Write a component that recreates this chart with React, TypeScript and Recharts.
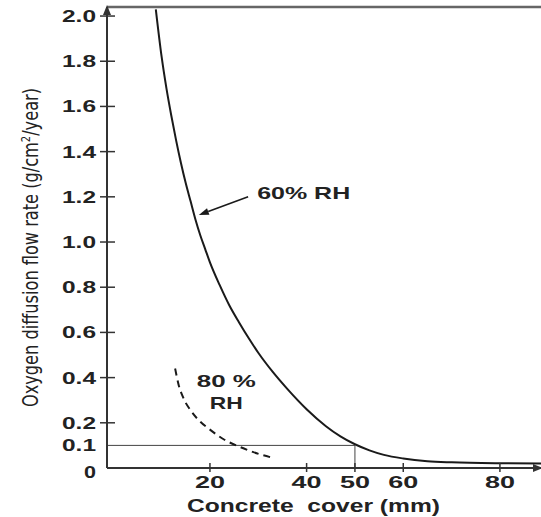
import { LineChart, Line, XAxis, YAxis, ReferenceLine, ReferenceDot } from 'recharts'

// concrete cover (mm) vs oxygen diffusion flow rate (g/cm2/year)
const rh60Cover = [8.8, 10, 11, 12, 13, 14, 15, 16, 17, 18, 19, 20, 22, 24, 26, 28, 30, 33, 36, 40, 44, 47, 50, 53, 56, 60, 65, 70, 80, 88.5]
const rh60Rate = [2.03, 1.82, 1.68, 1.56, 1.45, 1.35, 1.26, 1.18, 1.1, 1.03, 0.97, 0.91, 0.81, 0.72, 0.645, 0.575, 0.51, 0.425, 0.35, 0.26, 0.185, 0.14, 0.105, 0.078, 0.058, 0.042, 0.03, 0.025, 0.021, 0.02]

const rh80Cover = [12.8, 13.5, 14.5, 16, 18, 20, 23, 26, 29, 33]
const rh80Rate = [0.44, 0.37, 0.31, 0.255, 0.205, 0.17, 0.125, 0.095, 0.07, 0.045]

const xTicks = [20, 40, 50, 60, 80]
const yTicks = [0, 0.1, 0.2, 0.4, 0.6, 0.8, 1.0, 1.2, 1.4, 1.6, 1.8, 2.0]

const xDomain: [number, number] = [-1.3, 88.5]
const yDomain: [number, number] = [0, 2.04]

// the 0.1 rate reached at 50 mm cover
const markCover = 50
const markRate = 0.1

const rh60 = rh60Cover.map((x, i) => ({ x, y: rh60Rate[i] }))
const rh80 = rh80Cover.map((x, i) => ({ x, y: rh80Rate[i] }))

const FONT = '"Liberation Sans", Arial, Helvetica, sans-serif'
const INK = '#1a1a1a'

function YTick({ x, y, payload }: any) {
  const v = payload.value as number
  const label = v === 0 ? '0' : v.toFixed(1)
  return (
    <g>
      {v >= 0.2 && <line x1={x - 7} x2={x + 8} y1={y} y2={y} stroke="#333" strokeWidth={1.5} />}
      <text
        x={x - 11}
        y={y}
        dy={v === 0 ? 10 : 6}
        textAnchor="end"
        fontFamily={FONT}
        fontSize={17}
        fontWeight={700}
        fill="#222"
        textLength={label.length === 1 ? 12 : 34}
        lengthAdjust="spacingAndGlyphs"
      >
        {label}
      </text>
    </g>
  )
}

function XTick({ x, y, payload }: any) {
  return (
    <g>
      <line x1={x} x2={x} y1={y - 5} y2={y + 4} stroke="#333" strokeWidth={1.5} />
      <text
        x={x}
        y={y}
        dy={20}
        textAnchor="middle"
        fontFamily={FONT}
        fontSize={17}
        fontWeight={700}
        fill="#222"
        textLength={30}
        lengthAdjust="spacingAndGlyphs"
      >
        {payload.value}
      </text>
    </g>
  )
}

function YLabel({ viewBox }: any) {
  const cx = viewBox.x + 38
  const cy = viewBox.y + viewBox.height / 2 + 10
  return (
    <text
      x={cx}
      y={cy}
      transform={`rotate(-90, ${cx}, ${cy})`}
      textAnchor="middle"
      fontFamily='"Liberation Sans Narrow", "DejaVu Sans Condensed", "Liberation Sans", sans-serif'
      fontSize={21}
      fill="#222"
      textLength={319}
      lengthAdjust="spacingAndGlyphs"
    >
      Oxygen diffusion flow rate (g/cm
      <tspan dy={-8} fontSize={13}>2</tspan>
      <tspan dy={8}>/year)</tspan>
    </text>
  )
}

function XLabel({ viewBox }: any) {
  return (
    <text
      x={viewBox.x + 206.5}
      y={viewBox.y + 44}
      textAnchor="middle"
      fontFamily={FONT}
      fontSize={19}
      fontWeight={700}
      fill="#222"
      textLength={253}
      lengthAdjust="spacingAndGlyphs"
      style={{ whiteSpace: 'pre' }}
    >
      Concrete  cover (mm)
    </text>
  )
}

const textShape = (label: string, len: number) => (p: any) => (
  <text
    x={p.cx}
    y={p.cy}
    dy={6}
    textAnchor="middle"
    fontFamily={FONT}
    fontSize={17}
    fontWeight={700}
    fill="#222"
    textLength={len}
    lengthAdjust="spacingAndGlyphs"
  >
    {label}
  </text>
)

function ArrowLine(p: any) {
  const { x1, y1, x2, y2 } = p
  const ang = Math.atan2(y2 - y1, x2 - x1)
  const len = 10
  const w = 3.5
  const bx = x2 - len * Math.cos(ang)
  const by = y2 - len * Math.sin(ang)
  const nx = -Math.sin(ang) * w
  const ny = Math.cos(ang) * w
  return (
    <g>
      <line x1={x1} y1={y1} x2={bx} y2={by} stroke={INK} strokeWidth={1.6} />
      <polygon points={`${x2},${y2} ${bx + nx},${by + ny} ${bx - nx},${by - ny}`} fill={INK} />
    </g>
  )
}

const upArrow = (p: any) => (
  <polygon points={`${p.cx},${p.cy - 2} ${p.cx - 4},${p.cy + 8} ${p.cx + 4},${p.cy + 8}`} fill="#333" />
)
const rightArrow = (p: any) => (
  <polygon points={`${p.cx + 2},${p.cy} ${p.cx - 8},${p.cy - 4} ${p.cx - 8},${p.cy + 4}`} fill="#333" />
)

export default function App() {
  return (
    <div style={{ position: 'absolute', left: 0, top: 0, width: 541, height: 517, background: '#fff' }}>
      <LineChart width={541} height={517} margin={{ top: 7, right: 0, left: 0, bottom: 0 }}>
        <XAxis
          type="number"
          dataKey="x"
          domain={xDomain}
          allowDataOverflow
          ticks={xTicks}
          height={49}
          tickSize={0}
          tickMargin={0}
          tickLine={false}
          tick={<XTick />}
          interval={0}
          axisLine={{ stroke: '#333', strokeWidth: 2 }}
          label={{ content: <XLabel /> }}
        />
        <YAxis
          type="number"
          domain={yDomain}
          allowDataOverflow
          ticks={yTicks}
          width={107}
          tickSize={0}
          tickMargin={0}
          tickLine={false}
          tick={<YTick />}
          interval={0}
          axisLine={{ stroke: '#333', strokeWidth: 2 }}
          label={{ content: <YLabel /> }}
        />
        <ReferenceLine y={yDomain[1]} stroke="#666" strokeWidth={2.5} />
        <ReferenceLine
          segment={[{ x: xDomain[0], y: markRate }, { x: markCover, y: markRate }]}
          stroke="#444"
          strokeWidth={1}
        />
        <ReferenceLine
          segment={[{ x: markCover, y: 0 }, { x: markCover, y: markRate }]}
          stroke="#444"
          strokeWidth={1}
        />
        <Line
          data={rh60}
          dataKey="y"
          type="monotone"
          stroke={INK}
          strokeWidth={2}
          dot={false}
          isAnimationActive={false}
        />
        <Line
          data={rh80}
          dataKey="y"
          type="monotone"
          stroke={INK}
          strokeWidth={2}
          strokeDasharray="7 5"
          dot={false}
          isAnimationActive={false}
        />
        <ReferenceLine
          segment={[{ x: 27.9, y: 1.2 }, { x: 17.7, y: 1.12 }]}
          shape={<ArrowLine />}
        />
        <ReferenceDot x={39.4} y={1.217} r={0} shape={textShape('60% RH', 93)} />
        <ReferenceDot x={23.4} y={0.385} r={0} shape={textShape('80 %', 59)} />
        <ReferenceDot x={23.4} y={0.288} r={0} shape={textShape('RH', 33)} />
        <ReferenceDot x={xDomain[0]} y={yDomain[1]} r={0} shape={upArrow} />
        <ReferenceDot x={xDomain[1]} y={0} r={0} shape={rightArrow} />
      </LineChart>
    </div>
  )
}
